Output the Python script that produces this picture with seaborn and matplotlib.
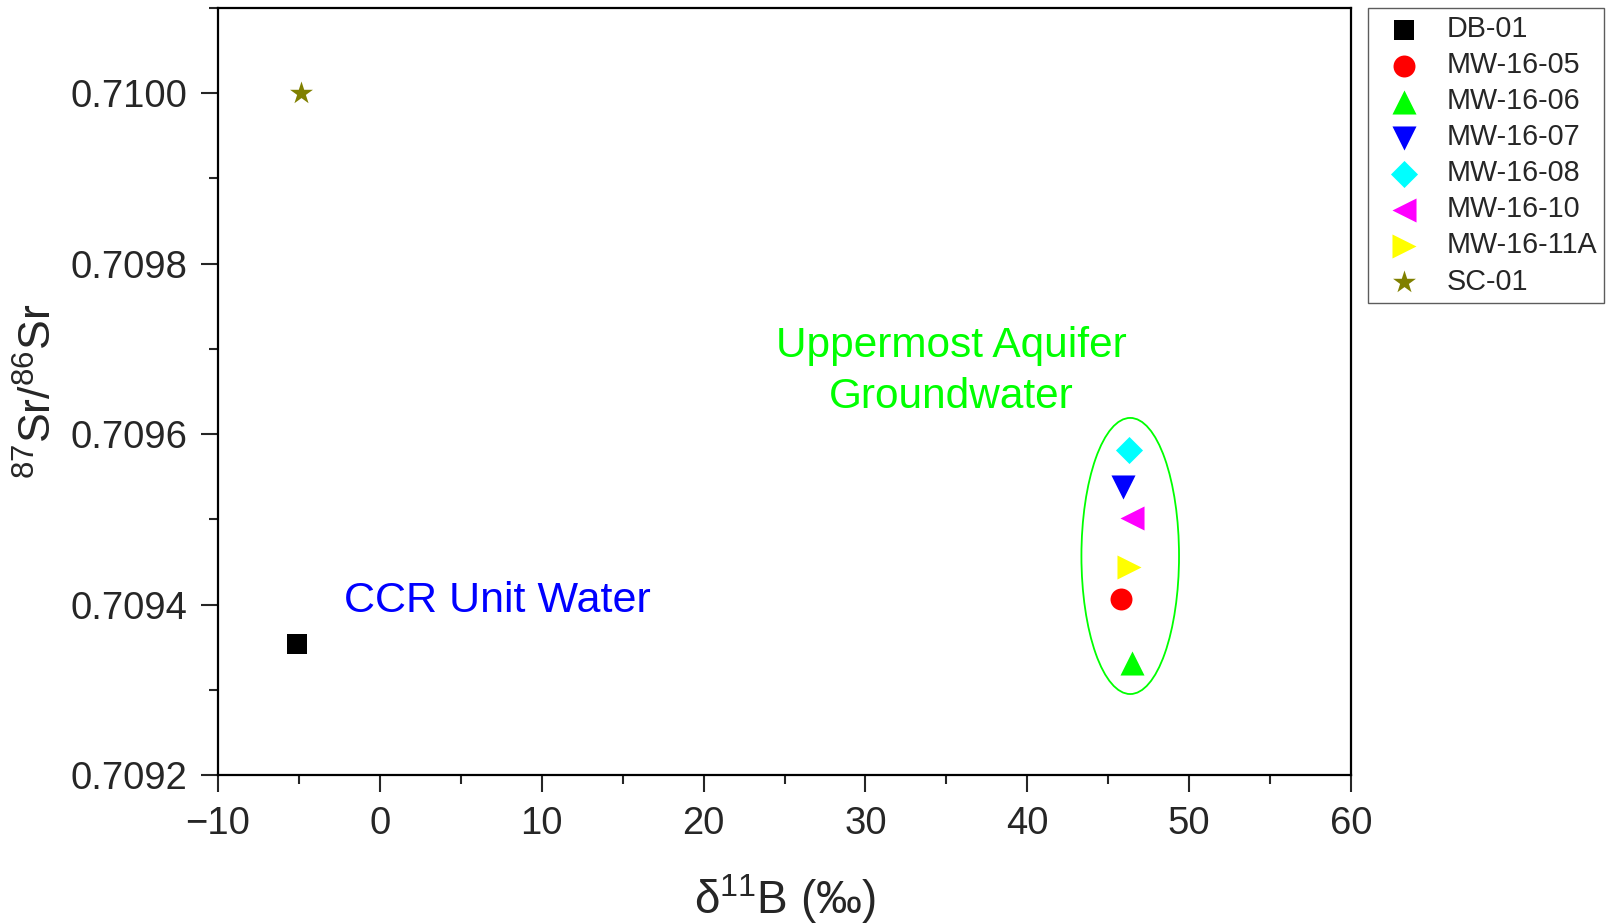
import matplotlib
matplotlib.use("Agg")
import matplotlib.pyplot as plt
from matplotlib.patches import Ellipse
from matplotlib.ticker import MultipleLocator, FormatStrFormatter
import seaborn as sns
import pandas as pd

# ---- data ----
samples = ["DB-01", "MW-16-05", "MW-16-06", "MW-16-07", "MW-16-08", "MW-16-10", "MW-16-11A", "SC-01"]
d11B = [-5.1, 45.8, 46.5, 45.9, 46.3, 46.5, 46.3, -4.9]
sr_ratio = [0.709354, 0.709407, 0.709331, 0.709538, 0.709581, 0.709502, 0.709444, 0.710000]
markers = ["s", "o", "^", "v", "D", "<", ">", "*"]
colors = ["#000000", "#ff0000", "#00ff00", "#0000ff", "#00ffff", "#ff00ff", "#ffff00", "#808000"]
sizes = [200, 250, 300, 300, 190, 300, 300, 300]

x_ticks = [-10, 0, 10, 20, 30, 40, 50, 60]
y_ticks = [0.7092, 0.7094, 0.7096, 0.7098, 0.7100]

df = pd.DataFrame({"sample": samples, "d11B": d11B, "sr": sr_ratio})

sns.set_style("ticks")
plt.rcParams["font.family"] = ["Liberation Sans", "DejaVu Sans"]
plt.rcParams["mathtext.fontset"] = "custom"
plt.rcParams["mathtext.rm"] = "Liberation Sans"
plt.rcParams["mathtext.it"] = "Liberation Sans:italic"
plt.rcParams["mathtext.bf"] = "Liberation Sans:bold"

fig = plt.figure(figsize=(16.07, 9.24), dpi=100)
ax = fig.add_axes([218 / 1607, 1 - 775 / 924, (1351 - 218) / 1607, (775 - 8) / 924])

for i, row in df.iterrows():
    sns.scatterplot(x=[row["d11B"]], y=[row["sr"]], marker=markers[i], color=colors[i],
                    s=sizes[i], linewidth=0, label=row["sample"], ax=ax, zorder=3)

ax.add_patch(Ellipse((46.36, 0.709457), width=6.03, height=0.000324, fill=False,
                     edgecolor="#00ff00", linewidth=1.3, zorder=2))

ax.text(-2.2, 0.709404, "CCR Unit Water", color="#0000ff", fontsize=31,
        ha="left", va="center")
ax.text(35.3, 0.709673, "Uppermost Aquifer\nGroundwater", color="#00ff00", fontsize=30.5,
        ha="center", va="center", linespacing=1.36)

ax.set_xlim(-10, 60)
ax.set_ylim(0.7092, 0.71010)
ax.set_xticks(x_ticks)
ax.set_yticks(y_ticks)
ax.xaxis.set_minor_locator(MultipleLocator(5))
ax.yaxis.set_minor_locator(MultipleLocator(0.0001))
ax.yaxis.set_major_formatter(FormatStrFormatter("%.4f"))

ax.tick_params(axis="both", which="major", direction="out", length=12, width=1.5,
               labelsize=27.5, pad=10, top=False, right=False)
ax.tick_params(axis="both", which="minor", direction="out", length=6.5, width=1.5,
               top=False, right=False)
for s in ax.spines.values():
    s.set_linewidth(1.6)
    s.set_color("black")

ax.set_xlabel(r"δ$^{11}$B (‰)", fontsize=33, labelpad=22)
ax.set_ylabel(r"$^{87}$Sr/$^{86}$Sr", fontsize=32, labelpad=7)

leg = ax.legend(loc="upper left", bbox_to_anchor=(1368 / 1607, 1 - 8 / 924),
                bbox_transform=fig.transFigure, borderaxespad=0, frameon=True,
                fancybox=False, fontsize=20.7, labelspacing=0.28, handletextpad=0.47,
                borderpad=0.25, handlelength=2.0, markerscale=1.0)
leg.get_frame().set_edgecolor("#333333")
leg.get_frame().set_linewidth(1.0)

fig.savefig("out.png", dpi=100)
